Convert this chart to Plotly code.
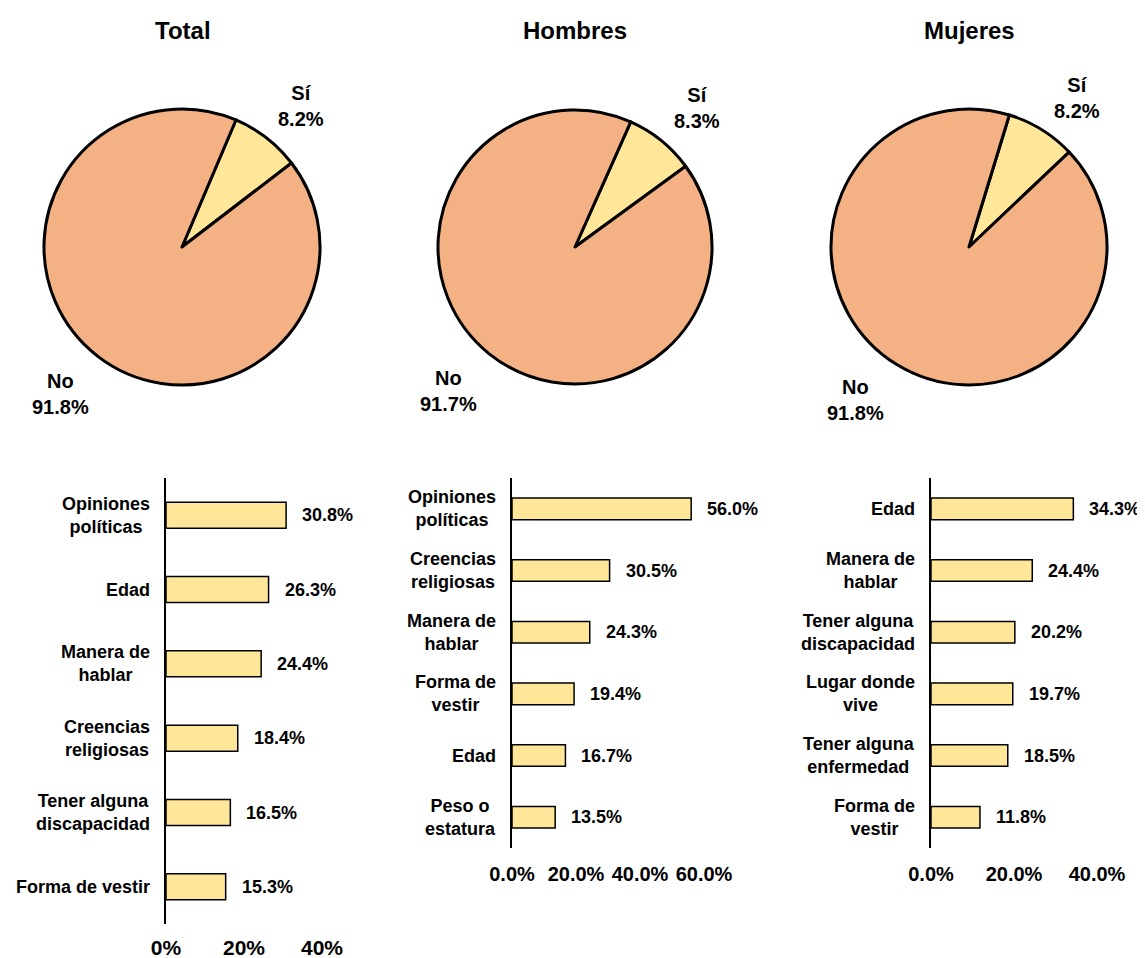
import plotly.graph_objects as go

OFF = 8  # page body margin offset
W, H = 1145 - OFF, 958 - OFF

# ---- data ----
pie_labels = ["Sí", "No"]
total_pie = [8.2, 91.8]
hombres_pie = [8.3, 91.7]
mujeres_pie = [8.2, 91.8]
panel_titles = ["Total", "Hombres", "Mujeres"]

total_cats = ["Opiniones<br>políticas", "Edad", "Manera de<br>hablar", "Creencias<br>religiosas",
              "Tener alguna<br>discapacidad", "Forma de vestir"]
total_vals = [30.8, 26.3, 24.4, 18.4, 16.5, 15.3]
hombres_cats = ["Opiniones<br>políticas", "Creencias<br>religiosas", "Manera de<br>hablar",
                "Forma de<br>vestir", "Edad", "Peso o<br>estatura"]
hombres_vals = [56.0, 30.5, 24.3, 19.4, 16.7, 13.5]
mujeres_cats = ["Edad", "Manera de<br>hablar", "Tener alguna<br>discapacidad", "Lugar donde<br>vive",
                "Tener alguna<br>enfermedad", "Forma de<br>vestir"]
mujeres_vals = [34.3, 24.4, 20.2, 19.7, 18.5, 11.8]

total_ticks = [0, 20, 40]
total_ticktext = ["0%", "20%", "40%"]
hombres_ticks = [0, 20, 40, 60]
hombres_ticktext = ["0.0%", "20.0%", "40.0%", "60.0%"]
mujeres_ticks = [0, 20, 40]
mujeres_ticktext = ["0.0%", "20.0%", "40.0%"]

# ---- style ----
FONT = "Liberation Sans, Arial, sans-serif"
C_NO = "#F4B183"
C_SI = "#FFE699"


def px_x(p):
    return (p - OFF) / W


def px_y(p):
    return 1 - (p - OFF) / H


fig = go.Figure()

# pies: (values, center x px, center y px, radius px, rotation)
pies = [
    (total_pie, 182, 247, 138, 23),
    (hombres_pie, 575, 247, 137, 24),
    (mujeres_pie, 969, 247, 138, 17),
]
for vals, cx, cy, r, rot in pies:
    fig.add_trace(go.Pie(
        labels=pie_labels, values=vals, sort=False, direction="clockwise",
        rotation=rot, textinfo="none", hoverinfo="skip", automargin=False,
        marker=dict(colors=[C_SI, C_NO], line=dict(color="black", width=3)),
        domain=dict(x=[px_x(cx - r), px_x(cx + r)], y=[px_y(cy + r), px_y(cy - r)]),
        showlegend=False,
    ))

# pie label positions (px): (si_x, si_y, no_x, no_y)
pie_lab_pos = [(301, 106, 60, 394), (697, 108, 449, 391), (1077, 98, 855, 400)]
for vals, (sx, sy, nx, ny) in zip([total_pie, hombres_pie, mujeres_pie], pie_lab_pos):
    for lab, v, (x, y) in zip(pie_labels, vals, [(sx, sy), (nx, ny)]):
        fig.add_annotation(
            x=px_x(x), y=px_y(y), xref="paper", yref="paper", showarrow=False,
            xanchor="center", yanchor="middle",
            text=f"<b>{lab}<br>{v:.1f}%</b>", align="center",
            font=dict(family=FONT, size=20, color="black"),
        )

title_x = [183, 575, 969]
for t, x in zip(panel_titles, title_x):
    fig.add_annotation(
        x=px_x(x), y=px_y(30), xref="paper", yref="paper", showarrow=False,
        xanchor="center", yanchor="middle",
        text=f"<b>{t}</b>", font=dict(family=FONT, size=24, color="black"),
    )

# bars: (cats, vals, axis suffix, x0 px, x1 px, range max, y top px, y bottom px, ticks, ticktext, tick size, standoff)
bars = [
    (total_cats, total_vals, "", 166, 322, 40, 478, 924, total_ticks, total_ticktext, 21, 9),
    (hombres_cats, hombres_vals, "2", 512, 704, 60, 478, 848, hombres_ticks, hombres_ticktext, 20, 12),
    (mujeres_cats, mujeres_vals, "3", 931, 1097, 40, 478, 848, mujeres_ticks, mujeres_ticktext, 20, 12),
]
for cats, vals, sfx, x0, x1, xmax, yt, yb, tv, tt, tsz, tso in bars:
    fig.add_trace(go.Bar(
        x=vals, y=cats, orientation="h", width=0.35,
        marker=dict(color=C_SI, line=dict(color="black", width=1.5)),
        xaxis="x" + sfx, yaxis="y" + sfx, hoverinfo="skip", showlegend=False,
    ))
    xa = dict(domain=[px_x(x0), px_x(x1)], range=[0, xmax], anchor="y" + sfx,
              showgrid=False, zeroline=False, showline=False, automargin=False,
              tickvals=tv, ticktext=tt, ticks="", ticklabelstandoff=tso,
              tickfont=dict(family=FONT, size=tsz, color="black", weight="bold"))
    ya = dict(domain=[px_y(yb), px_y(yt)], range=[len(cats) - 0.5, -0.5], anchor="x" + sfx,
              showgrid=False, zeroline=False, showline=True, linecolor="black", linewidth=2,
              showticklabels=False, ticks="", automargin=False)
    fig.update_layout(**{"xaxis" + sfx: xa, "yaxis" + sfx: ya})
    for c, v in zip(cats, vals):
        fig.add_annotation(
            x=v, y=c, xref="x" + sfx, yref="y" + sfx, xanchor="left", yanchor="middle", xshift=14,
            showarrow=False, text=f"<b>{v:.1f}%</b>",
            font=dict(family=FONT, size=18, color="black"),
        )
        fig.add_annotation(
            x=0, y=c, xref="x" + sfx, yref="y" + sfx, xanchor="right", yanchor="middle", xshift=-14,
            showarrow=False, text=f"<b>{c}</b>", align="center",
            font=dict(family=FONT, size=18, color="black"),
        )

fig.update_layout(
    template="none",
    width=W, height=H, margin=dict(l=0, r=0, t=0, b=0, pad=0),
    paper_bgcolor="white", plot_bgcolor="white",
    font=dict(family=FONT, color="black"),
)

fig.write_html("out.html")
